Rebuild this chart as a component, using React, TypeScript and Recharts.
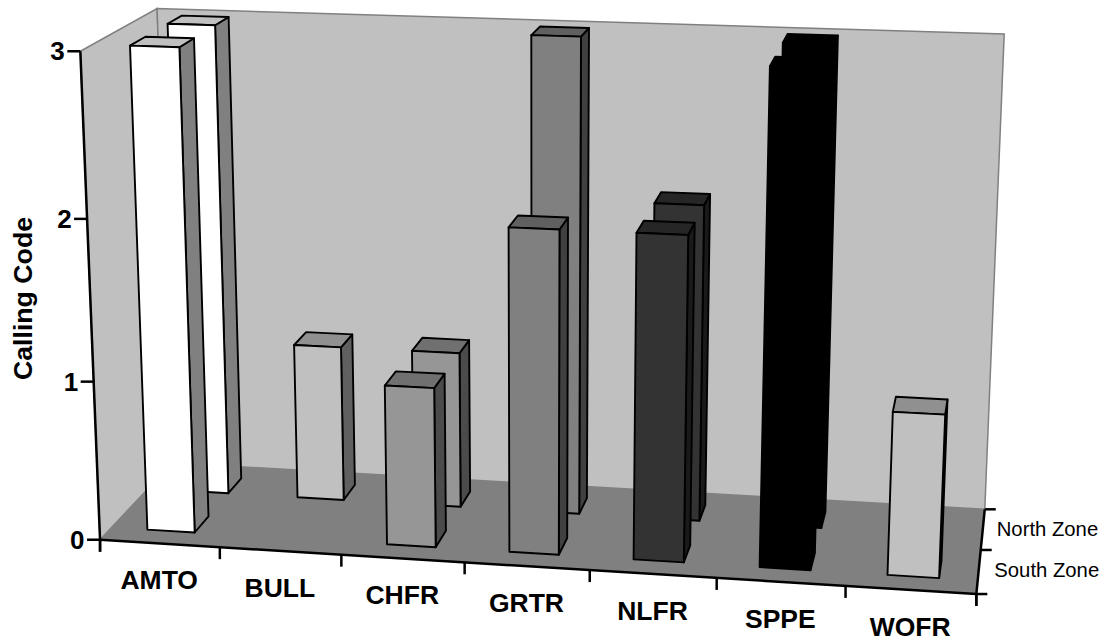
import { BarChart, Bar, XAxis, YAxis } from "recharts";

const categories = ["AMTO", "BULL", "CHFR", "GRTR", "NLFR", "SPPE", "WOFR"];
const southZone = [3, 0, 1, 2, 2, 3, 1];
const northZone = [3, 1, 1, 3, 2, 3, 0];
const zoneLabels = ["South Zone", "North Zone"];
const valueTicks = [0, 1, 2, 3];

const frontColors = ["#ffffff", "#c0c0c0", "#969696", "#808080", "#333333", "#000000", "#c0c0c0"];
const sideColors = ["#808080", "#606060", "#4b4b4b", "#404040", "#1a1a1a", "#000000", "#606060"];
const topColors = ["#c0c0c0", "#909090", "#707070", "#606060", "#262626", "#000000", "#909090"];

const data = categories.map((name, i) => ({
  name,
  south: southZone[i],
  north: northZone[i],
}));

const WIDTH = 1104;
const HEIGHT = 642;
const MARGIN = { left: 0, right: 128, top: 50, bottom: 72 };
const Y_AXIS_W = 100;
const X_AXIS_H = 30;
const PLOT_LEFT = MARGIN.left + Y_AXIS_W;
const PLOT_W = WIDTH - PLOT_LEFT - MARGIN.right;
const PLOT_H = HEIGHT - MARGIN.top - MARGIN.bottom - X_AXIS_H;
const BASE_Y = MARGIN.top + PLOT_H;
const BAR_SIZE = 50;

// corners of the 3d box: [x, value, depth] -> where they land in the picture
const calibration = [
  [0, 0, 0, 100, 540],
  [1, 0, 0, 976, 594.3],
  [0, 0, 1, 172.4, 462.7],
  [1, 0, 1, 985, 509],
  [0, 1, 0, 80.7, 50.7],
  [0, 1, 1, 156.7, 9],
  [1, 1, 1, 1004.3, 34],
];

// least squares camera matrix, solved once
function solveCamera() {
  const rows: number[][] = [];
  const rhs: number[] = [];
  calibration.forEach(([X, Y, Z, u, v]) => {
    rows.push([X, Y, Z, 1, 0, 0, 0, 0, -u * X, -u * Y, -u * Z]);
    rhs.push(u);
    rows.push([0, 0, 0, 0, X, Y, Z, 1, -v * X, -v * Y, -v * Z]);
    rhs.push(v);
  });
  const n = 11;
  const m: number[][] = [];
  for (let i = 0; i < n; i++) {
    const row: number[] = [];
    for (let j = 0; j < n; j++) {
      row.push(rows.reduce((s, r) => s + r[i] * r[j], 0));
    }
    row.push(rows.reduce((s, r, k) => s + r[i] * rhs[k], 0));
    m.push(row);
  }
  for (let c = 0; c < n; c++) {
    let p = c;
    for (let r = c + 1; r < n; r++) if (Math.abs(m[r][c]) > Math.abs(m[p][c])) p = r;
    [m[c], m[p]] = [m[p], m[c]];
    for (let r = 0; r < n; r++) {
      if (r === c) continue;
      const f = m[r][c] / m[c][c];
      for (let k = c; k <= n; k++) m[r][k] -= f * m[c][k];
    }
  }
  return m.map((row, i) => row[n] / row[i]);
}

const cam = solveCamera();

function project(nx: number, nv: number, nz: number) {
  const w = cam[8] * nx + cam[9] * nv + cam[10] * nz + 1;
  return [
    (cam[0] * nx + cam[1] * nv + cam[2] * nz + cam[3]) / w,
    (cam[4] * nx + cam[5] * nv + cam[6] * nz + cam[7]) / w,
  ];
}

// chart pixels -> unit box
const toX = (px: number) => (px - PLOT_LEFT) / PLOT_W;
const toV = (py: number) => (BASE_Y - py) / PLOT_H;

const pts = (list: number[][]) =>
  list.map((p) => project(p[0], p[1], p[2]).map((n) => n.toFixed(1)).join(",")).join(" ");

const makeBar = (z0: number, z1: number) => (props: any) => {
  const { x, y, width, height, index } = props;
  if (!height || height < 1) return <g />;
  const x0 = toX(x);
  const x1 = toX(x + width);
  const v = toV(y);
  const line = { stroke: "#000", strokeWidth: 1.9, strokeLinejoin: "round" as const };
  return (
    <g>
      <polygon points={pts([[x1, 0, z0], [x1, 0, z1], [x1, v, z1], [x1, v, z0]])} fill={sideColors[index]} {...line} />
      <polygon points={pts([[x0, v, z0], [x1, v, z0], [x1, v, z1], [x0, v, z1]])} fill={topColors[index]} {...line} />
      <polygon points={pts([[x0, 0, z0], [x1, 0, z0], [x1, v, z0], [x0, v, z0]])} fill={frontColors[index]} {...line} />
    </g>
  );
};

const XTick = (props: any) => {
  const { x, index } = props;
  const band = PLOT_W / categories.length;
  const [cx, cy] = project(toX(x), 0, 0);
  const edges = index === 0 ? [x - band / 2, x + band / 2] : [x + band / 2];
  return (
    <g>
      {edges.map((e) => {
        const [ex, ey] = project(toX(e), 0, 0);
        return <line key={e} x1={ex} y1={ey} x2={ex} y2={ey + 12} stroke="#000" strokeWidth={2.5} />;
      })}
      <text x={cx - 0.5} y={cy + 46} textAnchor="middle" fontFamily="Liberation Sans" fontWeight="bold" fontSize={26.5} fill="#000">
        {categories[index]}
      </text>
    </g>
  );
};

const YTick = (props: any) => {
  const { y, payload } = props;
  const [px, py] = project(0, toV(y), 0);
  return (
    <g>
      <line x1={px - 13} y1={py} x2={px} y2={py} stroke="#000" strokeWidth={2.5} />
      <text x={px - 15.5} y={py + 9} textAnchor="end" fontFamily="Liberation Sans" fontWeight="bold" fontSize={26} fill="#000">
        {payload.value}
      </text>
    </g>
  );
};

const Frame = () => {
  const axis = { stroke: "#000", strokeWidth: 2.5 };
  const [ax, ay] = project(0, 0, 0);
  const [ex, ey] = project(0, 1, 0);
  const [bx, by] = project(1, 0, 0);
  const [dx, dy] = project(1, 0, 1);
  const [mx, my] = project(1, 0, 0.5);
  return (
    <g>
      <polygon points={pts([[0, 0, 0], [0, 1, 0], [0, 1, 1], [0, 0, 1]])} fill="#c0c0c0" stroke="#808080" strokeWidth={1.5} />
      <polygon points={pts([[0, 0, 1], [0, 1, 1], [1, 1, 1], [1, 0, 1]])} fill="#c0c0c0" stroke="#808080" strokeWidth={1.5} />
      <polygon points={pts([[0, 0, 0], [1, 0, 0], [1, 0, 1], [0, 0, 1]])} fill="#808080" />
      <line x1={ax} y1={ay} x2={ex} y2={ey} {...axis} />
      <line x1={ax} y1={ay} x2={ax} y2={ay + 12} {...axis} />
      <line x1={ax} y1={ay} x2={bx} y2={by} {...axis} />
      <line x1={bx} y1={by} x2={dx} y2={dy} {...axis} />
      <line x1={bx} y1={by} x2={bx + 11} y2={by} {...axis} />
      <line x1={bx} y1={by} x2={bx} y2={by + 12} {...axis} />
      <line x1={mx} y1={my} x2={mx + 11} y2={my} {...axis} />
      <line x1={dx} y1={dy} x2={dx + 11} y2={dy} {...axis} />
      <text x={bx + 18} y={my + 27} fontFamily="Liberation Sans" fontSize={20.3} fill="#000">
        {zoneLabels[0]}
      </text>
      <text x={mx + 16} y={dy + 27} fontFamily="Liberation Sans" fontSize={20.3} fill="#000">
        {zoneLabels[1]}
      </text>
      <text
        transform="translate(32,298.5) rotate(-90)"
        textAnchor="middle"
        fontFamily="Liberation Sans"
        fontWeight="bold"
        fontSize={26.7}
        fill="#000"
      >
        Calling Code
      </text>
    </g>
  );
};

export default function App() {
  return (
    <div style={{ position: "absolute", left: 0, top: 0 }}>
      <BarChart width={WIDTH} height={HEIGHT} data={data} margin={MARGIN} barSize={BAR_SIZE} barGap={-BAR_SIZE}>
        <Frame />
        <XAxis dataKey="name" height={X_AXIS_H} axisLine={false} tickLine={false} tick={XTick} interval={0} />
        <YAxis domain={[0, 3]} ticks={valueTicks} axisLine={false} tickLine={false} tick={YTick} width={Y_AXIS_W} />
        <Bar dataKey="north" shape={makeBar(0.65, 0.85)} isAnimationActive={false} />
        <Bar dataKey="south" shape={makeBar(0.15, 0.35)} isAnimationActive={false} />
      </BarChart>
    </div>
  );
}
